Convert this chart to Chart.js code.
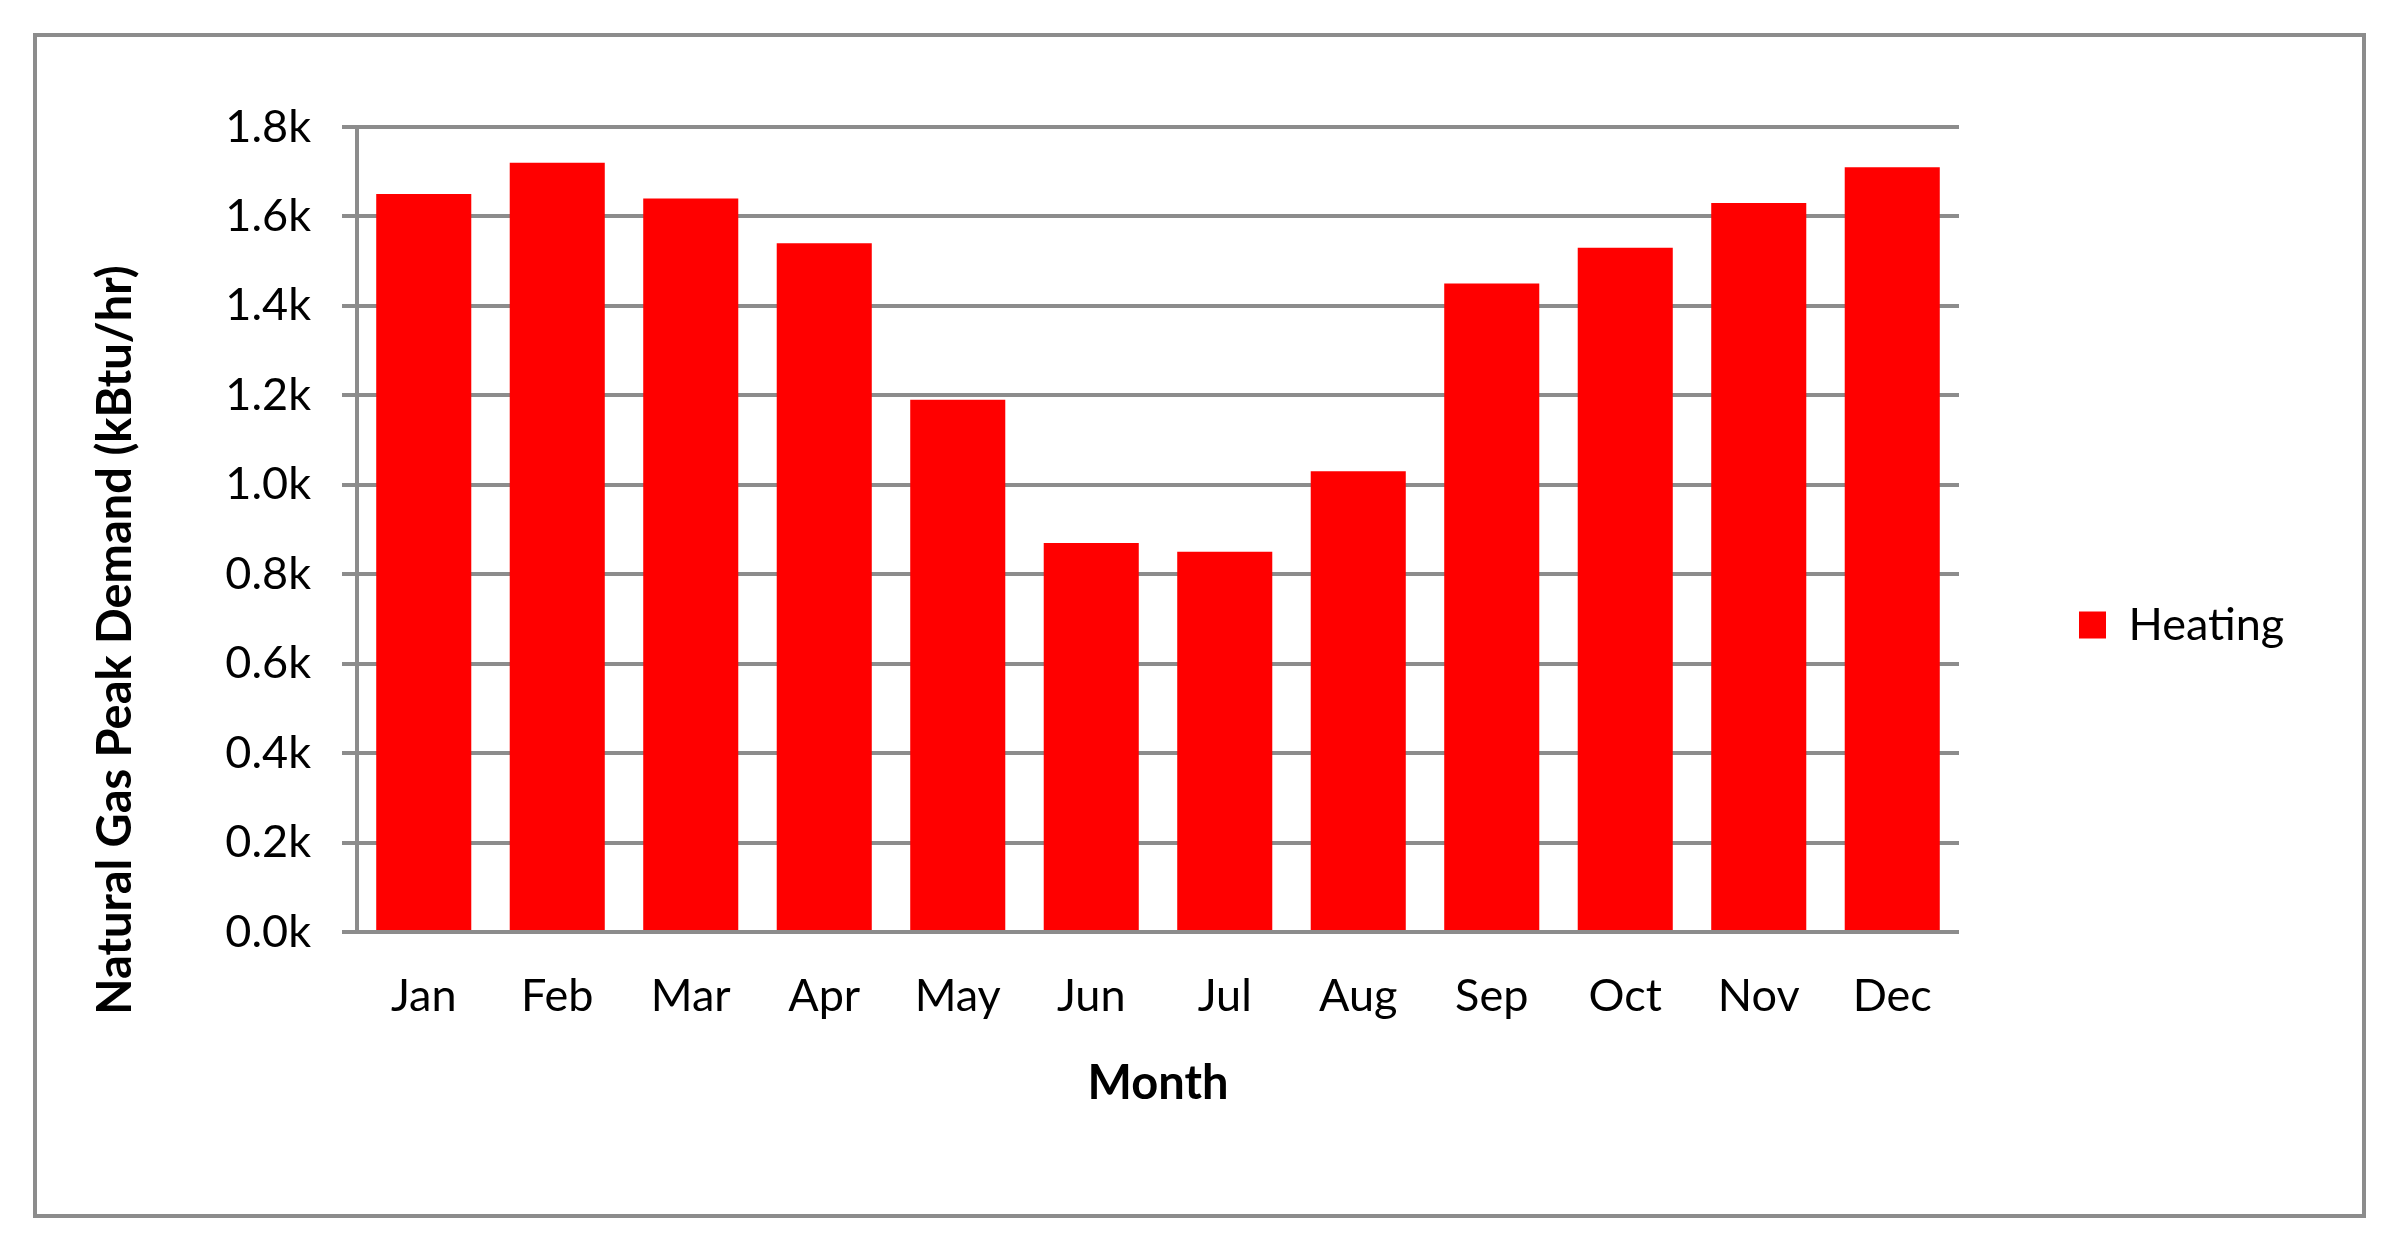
<!DOCTYPE html>
<html>
<head>
<meta charset="utf-8">
<script src="https://cdn.jsdelivr.net/npm/chart.js@4/dist/chart.umd.min.js"></script>
<style>
  html, body { margin: 0; padding: 0; background: #fff; }
  canvas { display: block; }
</style>
</head>
<body>
<canvas id="gasChart" width="2400" height="1257"></canvas>
<script>
// Chart data
const months = ['Jan', 'Feb', 'Mar', 'Apr', 'May', 'Jun', 'Jul', 'Aug', 'Sep', 'Oct', 'Nov', 'Dec'];
const heatingDemand = [1650, 1720, 1640, 1540, 1190, 870, 850, 1030, 1450, 1530, 1630, 1710];
const yTickValues = [0, 200, 400, 600, 800, 1000, 1200, 1400, 1600, 1800];
const seriesLabel = 'Heating';
const xTitle = 'Month';
const yTitle = 'Natural Gas Peak Demand (kBtu/hr)';

// Look
const FONT = 'Lato';
const FONT_SIZE = 45;
const TITLE_SIZE = 47;
const GRAY = '#8c8c8c';
const RED = '#ff0000';
const LEGEND_BOX = 27;
const LEGEND_X = 2079;          // left edge of the legend swatch
const CHART_RIGHT = 1959;

// measure legend text so the legend lands where the reference has it
function textWidth(text, font) {
  const ctx = document.createElement('canvas').getContext('2d');
  ctx.font = font;
  return ctx.measureText(text).width;
}

// outer frame + rotated y title (centred on the frame, not the plot)
const framePlugin = {
  id: 'frame',
  afterDraw(chart) {
    const ctx = chart.ctx;
    ctx.save();
    ctx.strokeStyle = GRAY;
    ctx.lineWidth = 4;
    ctx.strokeRect(35, 35, chart.width - 71, chart.height - 76);

    ctx.translate(116, 640);
    ctx.rotate(-Math.PI / 2);
    ctx.font = `bold ${TITLE_SIZE}px ${FONT}`;
    ctx.fillStyle = '#000';
    ctx.textAlign = 'center';
    ctx.textBaseline = 'middle';
    ctx.fillText(yTitle, 0, 0);
    ctx.restore();
  }
};

function initChart() {
  const canvas = document.getElementById('gasChart');
  const tw = textWidth(seriesLabel, `${FONT_SIZE}px ${FONT}`);
  const legendPad = LEGEND_X - CHART_RIGHT;
  const padRight = canvas.width - LEGEND_X - LEGEND_BOX - FONT_SIZE / 2 - tw - 10;

  new Chart(canvas.getContext('2d'), {
    type: 'bar',
    data: {
      labels: months,
      datasets: [{
        label: seriesLabel,
        data: heatingDemand,
        backgroundColor: RED,
        borderWidth: 0,
        categoryPercentage: 1,
        barPercentage: 0.712
      }]
    },
    options: {
      responsive: false,
      animation: false,
      layout: { padding: { left: 34, top: 127, right: padRight, bottom: 134 } },
      plugins: {
        tooltip: { enabled: false },
        legend: {
          position: 'right',
          labels: {
            boxWidth: LEGEND_BOX,
            boxHeight: LEGEND_BOX,
            padding: legendPad,
            color: '#000',
            font: { family: FONT, size: FONT_SIZE }
          }
        }
      },
      scales: {
        x: {
          grid: { display: false, drawTicks: false },
          border: { display: false },
          ticks: { color: '#000', padding: 37, font: { family: FONT, size: FONT_SIZE } },
          title: {
            display: true,
            text: xTitle,
            color: '#000',
            padding: { top: 0, bottom: 11 },
            font: { family: FONT, size: TITLE_SIZE, weight: 'bold' }
          },
          afterFit(scale) { scale.height = 191; }
        },
        y: {
          min: 0,
          max: 1800,
          grid: { color: GRAY, lineWidth: 4, tickLength: 15, tickColor: GRAY, tickWidth: 4 },
          border: { display: true, color: GRAY, width: 4 },
          ticks: {
            color: '#000',
            padding: 31,
            font: { family: FONT, size: FONT_SIZE },
            callback: v => (v / 1000).toFixed(1) + 'k'
          },
          afterBuildTicks(scale) { scale.ticks = yTickValues.map(v => ({ value: v })); },
          afterFit(scale) { scale.width = 323; }
        }
      }
    },
    plugins: [framePlugin]
  });
}

document.addEventListener('DOMContentLoaded', initChart);
</script>
</body>
</html>
